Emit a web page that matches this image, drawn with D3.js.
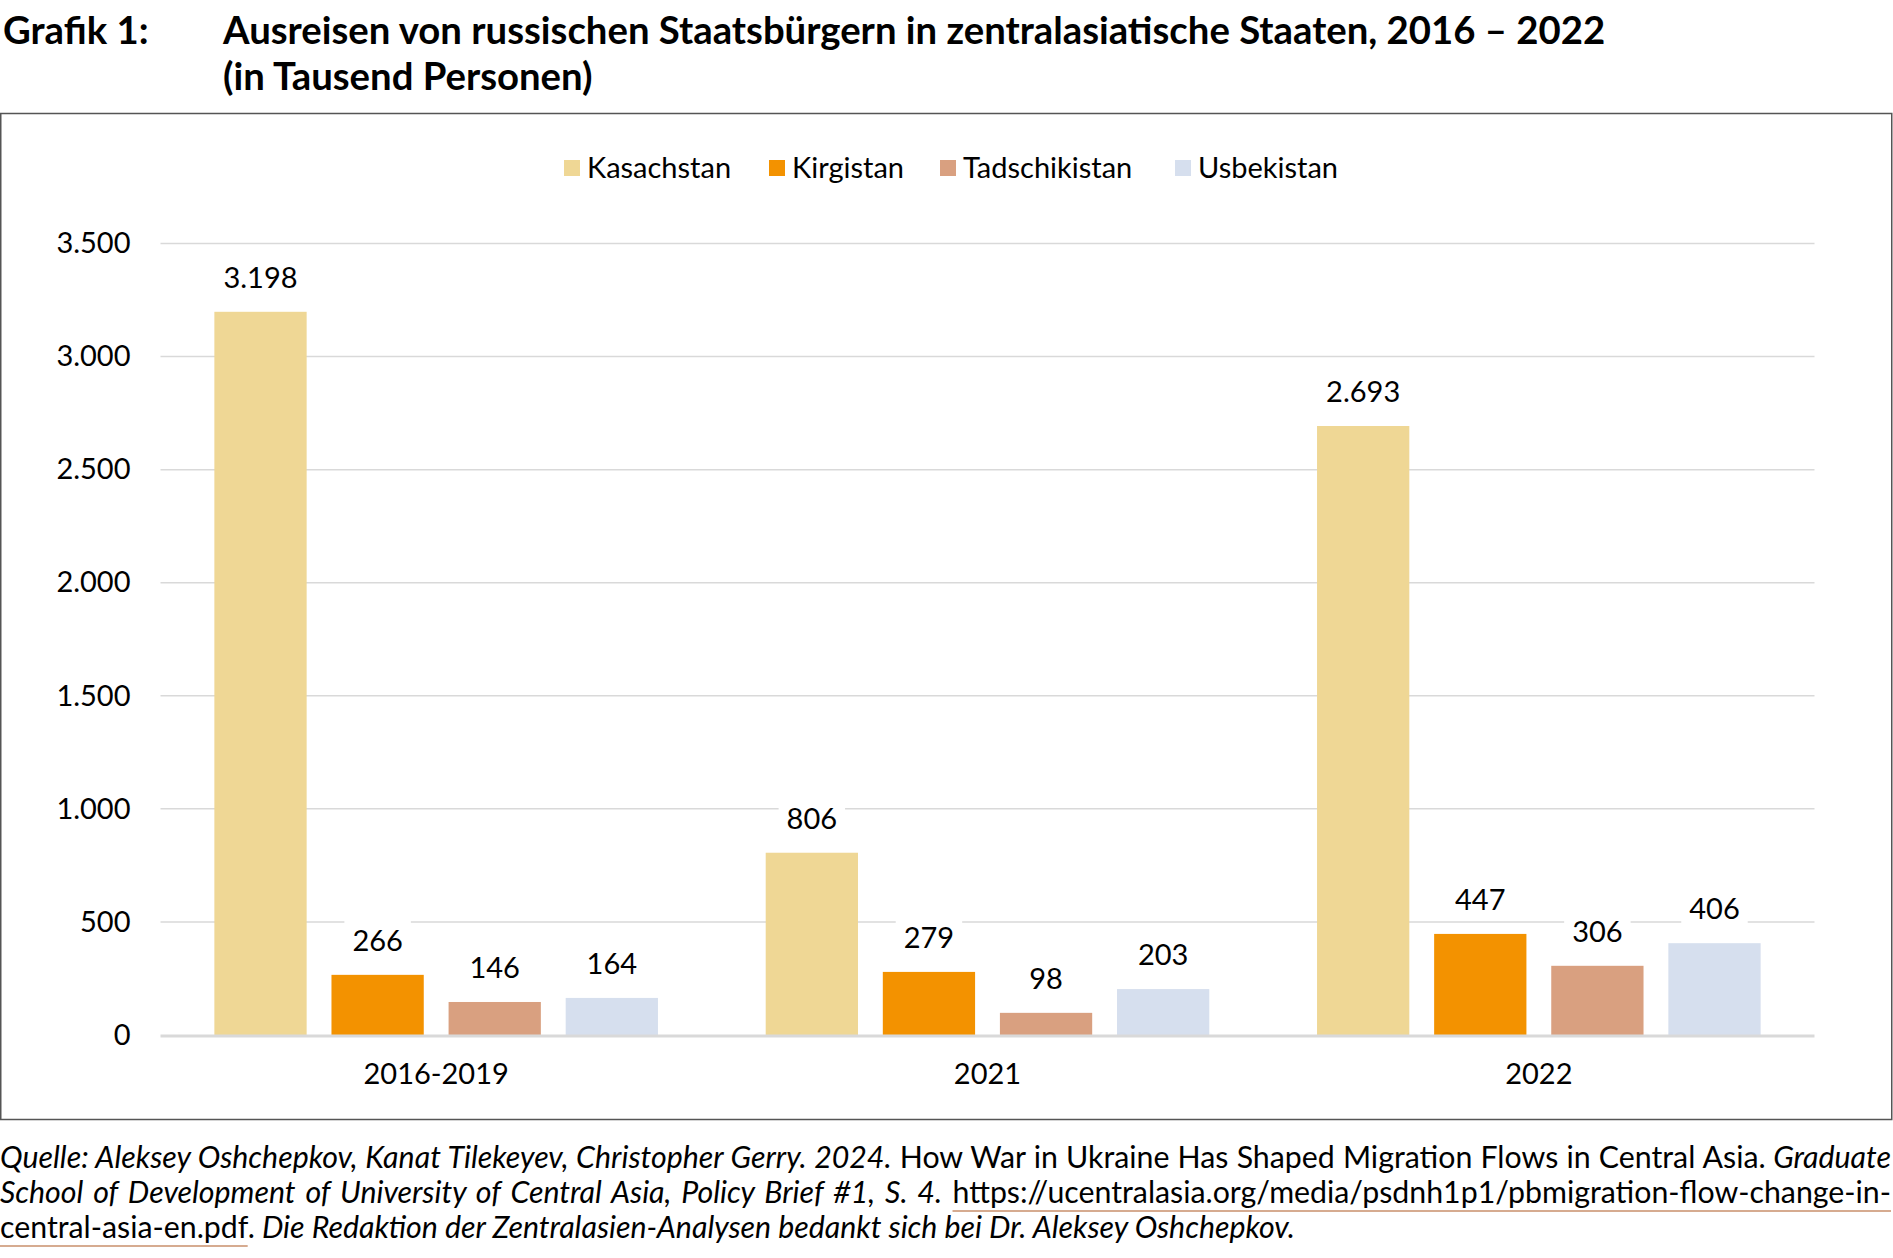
<!DOCTYPE html>
<html><head><meta charset="utf-8">
<script src="https://cdn.jsdelivr.net/npm/d3@7"></script>
<style>
html,body{margin:0;padding:0;background:#fff;}
svg text{font-family:Lato,"Open Sans",sans-serif;}
</style></head>
<body>
<svg id="chart" width="1893" height="1258"></svg>
<script>
const categories = ["2016-2019", "2021", "2022"];
const seriesNames = ["Kasachstan", "Kirgistan", "Tadschikistan", "Usbekistan"];
const kasachstan = [3198, 806, 2693];
const kirgistan = [266, 279, 447];
const tadschikistan = [146, 98, 306];
const usbekistan = [164, 203, 406];
const yTicks = [0, 500, 1000, 1500, 2000, 2500, 3000, 3500];
const colors = ["#EFD795", "#F39200", "#D9A080", "#D6DFEE"];

const seriesValues = [kasachstan, kirgistan, tadschikistan, usbekistan];
const locale = d3.formatLocale({decimal: ",", thousands: ".", grouping: [3], currency: ["", "€"]});
const fmt = locale.format(",d");

const svg = d3.select("#chart");
svg.append("rect").attr("width", 1893).attr("height", 1258).attr("fill", "#fff");

// Title
const title = svg.append("g").attr("font-weight", 700).attr("font-size", 38.3).attr("fill", "#000");
title.append("text").attr("x", 3).attr("y", 44).text("Grafik 1:");
title.append("text").attr("x", 223).attr("y", 44).text("Ausreisen von russischen Staatsbürgern in zentralasiatische Staaten, 2016 – 2022");
title.append("text").attr("x", 223).attr("y", 90).text("(in Tausend Personen)");

// Frame
svg.append("rect").attr("x", 0.75).attr("y", 113.5).attr("width", 1891).attr("height", 1006)
  .attr("fill", "none").attr("stroke", "#555").attr("stroke-width", 1.5);

const plot = {left: 160.5, right: 1814.5, top: 243.5, bottom: 1035};

const y = d3.scaleLinear().domain([0, 3500]).range([plot.bottom, plot.top]);
const x0 = d3.scaleBand().domain(categories).range([plot.left, plot.right]).paddingInner(0).paddingOuter(0);
const x1 = d3.scaleBand().domain(seriesNames).range([0, x0.bandwidth()]).paddingInner(0.212).paddingOuter(0.46);

// grid
svg.append("g").selectAll("line").data(yTicks.filter(d => d > 0)).join("line")
  .attr("x1", plot.left).attr("x2", plot.right)
  .attr("y1", d => y(d)).attr("y2", d => y(d))
  .attr("stroke", "#d9d9d9").attr("stroke-width", 1.5);

// y axis labels
const yAxis = d3.axisLeft(y).tickValues(yTicks).tickFormat(fmt).tickSize(0).tickPadding(30);
const yg = svg.append("g").attr("transform", `translate(${plot.left},0)`).call(yAxis);
yg.select(".domain").remove();
yg.selectAll("text").attr("font-size", 29).attr("fill", "#000").attr("font-family", "Lato");

// bars
const groups = svg.append("g").selectAll("g").data(categories).join("g")
  .attr("transform", d => `translate(${x0(d)},0)`);
groups.selectAll("rect").data((c, i) => seriesNames.map((s, j) => ({s, j, v: seriesValues[j][i]})))
  .join("rect")
  .attr("x", d => x1(d.s)).attr("width", x1.bandwidth())
  .attr("y", d => y(d.v)).attr("height", d => y(0) - y(d.v))
  .attr("fill", d => colors[d.j]);

// baseline
svg.append("line").attr("x1", plot.left).attr("x2", plot.right).attr("y1", y(0)+1).attr("y2", y(0)+1)
  .attr("stroke", "#d9d9d9").attr("stroke-width", 3);

// x axis labels
const xAxis = d3.axisBottom(x0).tickSize(0).tickPadding(28);
const xg = svg.append("g").attr("transform", `translate(0,${plot.bottom})`).call(xAxis);
xg.select(".domain").remove();
xg.selectAll("text").attr("font-size", 29).attr("fill", "#000").attr("font-family", "Lato");

// data labels with white background
groups.each(function(c, i) {
  const g = d3.select(this);
  seriesNames.forEach((s, j) => {
    const v = seriesValues[j][i];
    const cx = x1(s) + x1.bandwidth() / 2;
    const cy = y(v) - 34;
    const lg = g.append("g");
    const bg = lg.append("rect").attr("fill", "#fff");
    const t = lg.append("text").attr("x", cx).attr("y", cy).attr("dy", "0.35em")
      .attr("text-anchor", "middle").attr("font-size", 29).attr("fill", "#000").text(fmt(v));
    const bb = t.node().getBBox();
    bg.attr("x", bb.x - 8).attr("y", bb.y - 4).attr("width", bb.width + 16).attr("height", bb.height + 8);
  });
});

// legend
const legendX = [564, 769, 940, 1175];
const lgd = svg.append("g");
seriesNames.forEach((s, j) => {
  lgd.append("rect").attr("x", legendX[j]).attr("y", 160).attr("width", 16).attr("height", 16).attr("fill", colors[j]);
  lgd.append("text").attr("x", legendX[j] + 23).attr("y", 168).attr("dy", "0.35em")
    .attr("font-size", 29).attr("fill", "#000").text(s);
});

// footer
const footerLines = [
  [["Quelle: Aleksey Oshchepkov, Kanat Tilekeyev, Christopher Gerry. 2024.", "italic", false],
   [" How War in Ukraine Has Shaped Migration Flows in Central Asia.", "normal", false],
   [" Graduate", "italic", false]],
  [["School of Development of University of Central Asia, Policy Brief #1, S. 4.", "italic", false],
   [" ", "normal", false],
   ["https://ucentralasia.org/media/psdnh1p1/pbmigration-flow-change-in-", "normal", true]],
  [["central-asia-en.pdf", "normal", true],
   [".", "normal", false],
   [" Die Redaktion der Zentralasien-Analysen bedankt sich bei Dr. Aleksey Oshchepkov.", "italic", false]]
];
const footerY = [1168, 1203, 1238];
const footerWidth = 1891;
footerLines.forEach((line, li) => {
  const t = svg.append("text").attr("x", 0).attr("y", footerY[li]).attr("font-size", 30.3).attr("fill", "#000");
  const spans = line.map(([txt, style, ul]) => t.append("tspan").attr("font-style", style).text(txt).datum(ul));
  if (li < 2) {
    const w = t.node().getComputedTextLength();
    const spaces = line.map(d => d[0]).join("").split(" ").length - 1;
    t.attr("word-spacing", (footerWidth - w) / spaces);
  }
  spans.forEach(sp => {
    if (sp.datum()) {
      const n = sp.node();
      const start = n.getStartPositionOfChar(0).x;
      const last = n.getNumberOfChars() - 1;
      const end = n.getEndPositionOfChar(last).x;
      svg.append("line").attr("x1", start).attr("x2", end)
        .attr("y1", footerY[li] + 8).attr("y2", footerY[li] + 8)
        .attr("stroke", "#C98F6B").attr("stroke-width", 1.5);
    }
  });
});
</script>
</body></html>
